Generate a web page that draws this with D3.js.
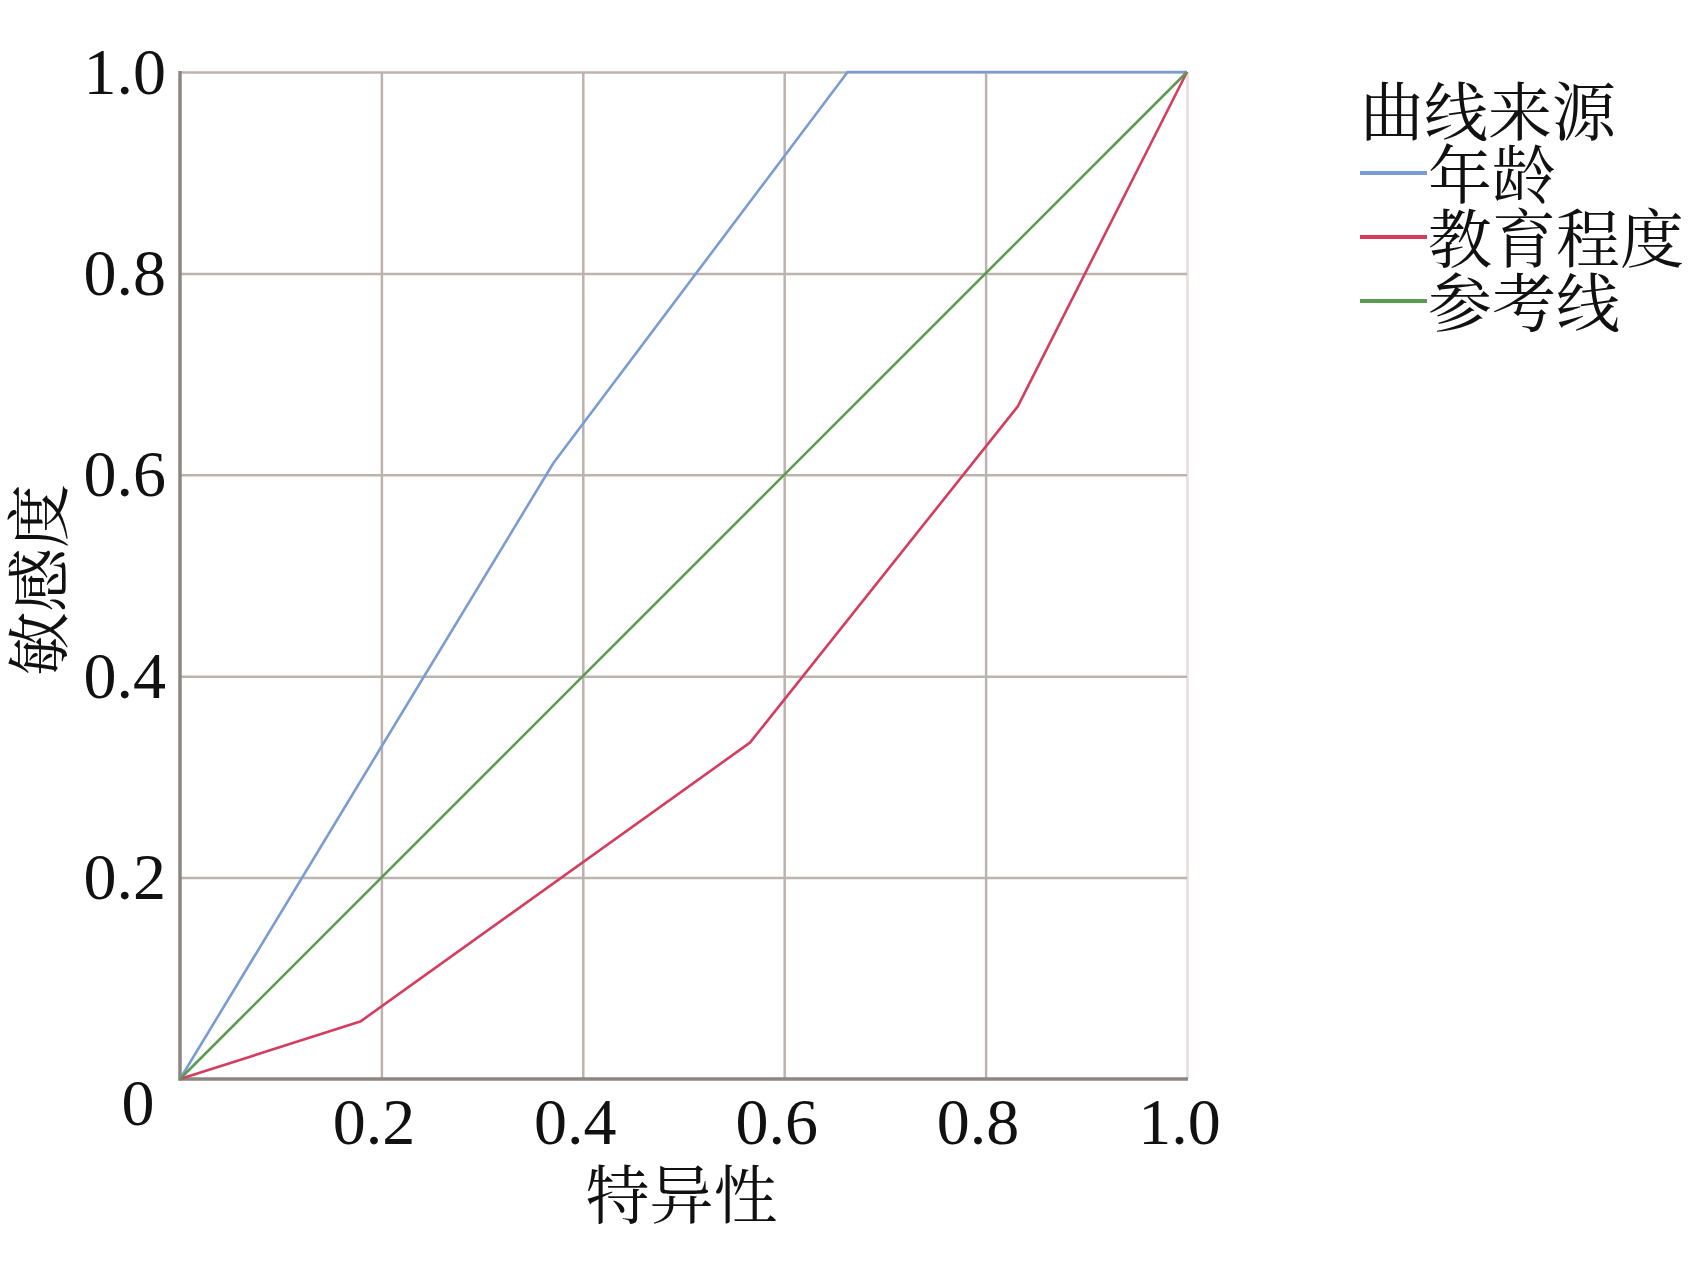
<!DOCTYPE html>
<html><head><meta charset="utf-8">
<script src="https://cdn.jsdelivr.net/npm/d3@7"></script>
<style>
html,body{margin:0;padding:0;background:#fff;}
svg{display:block;}
</style></head>
<body>
<svg id="chart" width="1697" height="1269"></svg>
<script>
// ---- data ----
const seriesNames = ["年龄", "教育程度", "参考线"];
const ageX = [0, 0.371, 0.663, 1.0];
const ageY = [0, 0.612, 1.0, 1.0];
const eduX = [0, 0.179, 0.566, 0.832, 1.0];
const eduY = [0, 0.057, 0.334, 0.668, 1.0];
const refX = [0, 1.0];
const refY = [0, 1.0];
const tickValues = [0.2, 0.4, 0.6, 0.8, 1.0];
const tickLabels = ["0.2", "0.4", "0.6", "0.8", "1.0"];
const originLabel = "0";
const xTitle = "特异性";
const yTitle = "敏感度";
const legendTitle = "曲线来源";
const colors = ["#7b9bd3", "#d43d5e", "#5c9a52"];

const svg = d3.select("#chart");
const L = 180, R = 1187, T = 72, B = 1079;
const x = d3.scaleLinear().domain([0, 1]).range([L, R]);
const y = d3.scaleLinear().domain([0, 1]).range([B, T]);
const cjk = "'Noto Serif CJK SC','Noto Sans CJK SC',sans-serif";
const serif = "'Liberation Serif','Times New Roman',serif";

// grid via axes
const gx = svg.append("g").attr("transform", `translate(0,${B})`)
  .call(d3.axisBottom(x).tickValues(tickValues).tickFormat((d,i)=>tickLabels[i])
    .tickSize(-(B - T)).tickPadding(18));
const gy = svg.append("g").attr("transform", `translate(${L},0)`)
  .call(d3.axisLeft(y).tickValues(tickValues).tickFormat((d,i)=>tickLabels[i])
    .tickSize(-(R - L)).tickPadding(14));
[gx, gy].forEach(g => {
  g.select(".domain").remove();
  g.selectAll(".tick line").attr("stroke", "#bdb3ae").attr("stroke-width", 2.5);
  g.selectAll(".tick text").attr("fill", "#111").style("font-family", serif).style("font-size", "66px");
});
gx.selectAll(".tick text").attr("dx", -8);
// right edge lighter
gx.selectAll(".tick line").filter(d => d === 1).attr("stroke", "#e6dcdc");
// axes lines
svg.append("line").attr("x1", L).attr("x2", L).attr("y1", T - 1).attr("y2", B + 1.5)
  .attr("stroke", "#8e8682").attr("stroke-width", 3.5);
svg.append("line").attr("x1", L - 1.5).attr("x2", R + 1).attr("y1", B).attr("y2", B)
  .attr("stroke", "#8e8682").attr("stroke-width", 3.5);

// origin label
svg.append("text").attr("x", L - 42).attr("y", B + 46).attr("text-anchor", "middle")
  .style("font-family", serif).style("font-size", "66px").attr("fill", "#111").text(originLabel);

// lines
const line = d3.line().x(d => x(d[0])).y(d => y(d[1]));
const series = [
  d3.zip(ageX, ageY),
  d3.zip(eduX, eduY),
  d3.zip(refX, refY)
];
series.forEach((s, i) => {
  svg.append("path").datum(s).attr("d", line).attr("fill", "none")
    .attr("stroke", colors[i]).attr("stroke-width", 2.6).attr("stroke-linejoin", "round");
});

// axis titles
svg.append("text").attr("x", (L + R) / 2 - 2).attr("y", 1196).attr("dy", "0.35em")
  .attr("text-anchor", "middle").style("font-family", cjk).style("font-size", "64px")
  .attr("fill", "#111").text(xTitle);
svg.append("text").attr("transform", `translate(40,580) rotate(-90)`).attr("dy", "0.35em")
  .attr("text-anchor", "middle").style("font-family", cjk).style("font-size", "64px")
  .attr("fill", "#111").text(yTitle);

// legend
const lg = svg.append("g");
lg.append("text").attr("x", 1360).attr("y", 113).attr("dy", "0.35em")
  .style("font-family", cjk).style("font-size", "64px").attr("fill", "#111").text(legendTitle);
seriesNames.forEach((n, i) => {
  const cy = 176 + i * 64;
  lg.append("line").attr("x1", 1360).attr("x2", 1427).attr("y1", cy - 3).attr("y2", cy - 3)
    .attr("stroke", colors[i]).attr("stroke-width", 4);
  lg.append("text").attr("x", 1428).attr("y", cy).attr("dy", "0.35em")
    .style("font-family", cjk).style("font-size", "64px").attr("fill", "#111").text(n);
});
</script>
</body></html>
